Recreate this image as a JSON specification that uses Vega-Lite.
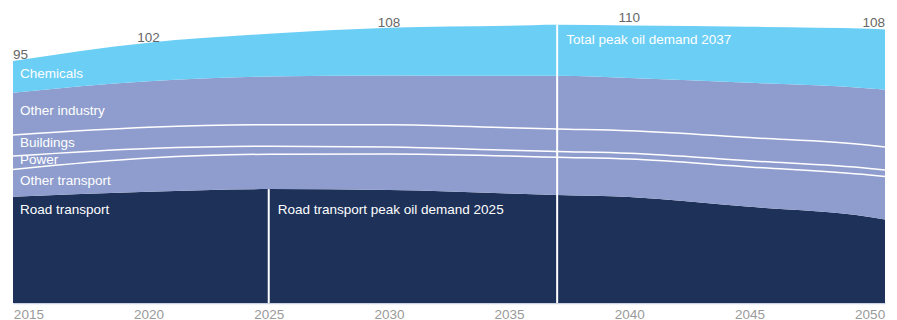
{
  "$schema": "https://vega.github.io/schema/vega-lite/v6.json",
  "width": 872,
  "height": 303,
  "autosize": {"type": "none"},
  "padding": {"left": 13, "right": 12, "top": 0, "bottom": 17},
  "background": "white",
  "config": {"view": {"stroke": null}, "font": "Liberation Sans"},
  "datasets": {
    "bands": [
      {"year": 2014.36, "sector": "Road transport", "value": 42.1},
      {"year": 2020, "sector": "Road transport", "value": 44.1},
      {"year": 2025, "sector": "Road transport", "value": 45.1},
      {"year": 2030, "sector": "Road transport", "value": 44.8},
      {"year": 2035, "sector": "Road transport", "value": 43.4},
      {"year": 2037, "sector": "Road transport", "value": 42.8},
      {"year": 2040, "sector": "Road transport", "value": 42.0},
      {"year": 2045, "sector": "Road transport", "value": 38.1},
      {"year": 2050, "sector": "Road transport", "value": 34.1},
      {"year": 2050.64, "sector": "Road transport", "value": 33.1},
      {"year": 2014.36, "sector": "Other transport", "value": 10.8},
      {"year": 2020, "sector": "Other transport", "value": 13.3},
      {"year": 2025, "sector": "Other transport", "value": 13.8},
      {"year": 2030, "sector": "Other transport", "value": 14.2},
      {"year": 2035, "sector": "Other transport", "value": 14.8},
      {"year": 2037, "sector": "Other transport", "value": 14.9},
      {"year": 2040, "sector": "Other transport", "value": 15.0},
      {"year": 2045, "sector": "Other transport", "value": 15.8},
      {"year": 2050, "sector": "Other transport", "value": 16.6},
      {"year": 2050.64, "sector": "Other transport", "value": 17.0},
      {"year": 2014.36, "sector": "Power", "value": 5.3},
      {"year": 2020, "sector": "Power", "value": 3.8},
      {"year": 2025, "sector": "Power", "value": 3.2},
      {"year": 2030, "sector": "Power", "value": 2.8},
      {"year": 2035, "sector": "Power", "value": 2.3},
      {"year": 2037, "sector": "Power", "value": 2.3},
      {"year": 2040, "sector": "Power", "value": 2.3},
      {"year": 2045, "sector": "Power", "value": 2.4},
      {"year": 2050, "sector": "Power", "value": 2.6},
      {"year": 2050.64, "sector": "Power", "value": 2.6},
      {"year": 2014.36, "sector": "Buildings", "value": 8.3},
      {"year": 2020, "sector": "Buildings", "value": 8.4},
      {"year": 2025, "sector": "Buildings", "value": 8.5},
      {"year": 2030, "sector": "Buildings", "value": 8.8},
      {"year": 2035, "sector": "Buildings", "value": 8.9},
      {"year": 2037, "sector": "Buildings", "value": 8.9},
      {"year": 2040, "sector": "Buildings", "value": 8.9},
      {"year": 2045, "sector": "Buildings", "value": 9.2},
      {"year": 2050, "sector": "Buildings", "value": 9.2},
      {"year": 2050.64, "sector": "Buildings", "value": 9.1},
      {"year": 2014.36, "sector": "Other industry", "value": 16.8},
      {"year": 2020, "sector": "Other industry", "value": 18.2},
      {"year": 2025, "sector": "Other industry", "value": 19.1},
      {"year": 2030, "sector": "Other industry", "value": 19.5},
      {"year": 2035, "sector": "Other industry", "value": 20.6},
      {"year": 2037, "sector": "Other industry", "value": 21.1},
      {"year": 2040, "sector": "Other industry", "value": 20.9},
      {"year": 2045, "sector": "Other industry", "value": 21.7},
      {"year": 2050, "sector": "Other industry", "value": 22.5},
      {"year": 2050.64, "sector": "Other industry", "value": 22.7},
      {"year": 2014.36, "sector": "Chemicals", "value": 12.5},
      {"year": 2020, "sector": "Chemicals", "value": 15.3},
      {"year": 2025, "sector": "Chemicals", "value": 16.9},
      {"year": 2030, "sector": "Chemicals", "value": 18.9},
      {"year": 2035, "sector": "Chemicals", "value": 19.8},
      {"year": 2037, "sector": "Chemicals", "value": 20.2},
      {"year": 2040, "sector": "Chemicals", "value": 20.8},
      {"year": 2045, "sector": "Chemicals", "value": 22.2},
      {"year": 2050, "sector": "Chemicals", "value": 23.6},
      {"year": 2050.64, "sector": "Chemicals", "value": 23.8}
    ],
    "markers": [
      {"year": 2025, "value": 45.1, "label": "Road transport peak oil demand 2025"},
      {"year": 2037, "value": 110.2, "label": "Total peak oil demand 2037"}
    ],
    "totals": [
      {"year": 2014.36, "total": 95},
      {"year": 2020, "total": 102},
      {"year": 2030, "total": 108},
      {"year": 2040, "total": 110},
      {"year": 2050.64, "total": 108}
    ]
  },
  "encoding": {
    "x": {
      "field": "year",
      "type": "quantitative",
      "scale": {"domain": [2014.36, 2050.64], "nice": false, "zero": false},
      "axis": {
        "values": [2015, 2020, 2025, 2030, 2035, 2040, 2045, 2050],
        "format": "d",
        "title": null,
        "grid": false,
        "ticks": false,
        "domainColor": "#c9d2e3",
        "domainWidth": 1.5,
        "labelColor": "#9a9a9a",
        "labelFontSize": 13.5,
        "labelPadding": 4,
        "labelFlush": false
      }
    }
  },
  "layer": [
    {
      "data": {"name": "bands"},
      "transform": [
        {"calculate": "indexof(['Road transport','Other transport','Power','Buildings','Other industry','Chemicals'], datum.sector)", "as": "rank"},
        {"window": [{"op": "sum", "field": "value", "as": "cum"}], "groupby": ["year"], "sort": [{"field": "rank"}], "frame": [null, 0]},
        {"calculate": "datum.cum - datum.value", "as": "lo"}
      ],
      "mark": {"type": "area", "interpolate": "monotone"},
      "encoding": {
        "y": {"field": "cum", "type": "quantitative", "scale": {"domain": [0, 120], "nice": false}, "axis": null},
        "y2": {"field": "lo"},
        "color": {
          "field": "sector",
          "type": "nominal",
          "scale": {
            "domain": ["Road transport", "Other transport", "Power", "Buildings", "Other industry", "Chemicals"],
            "range": ["#1d3159", "#8e9dcd", "#8e9dcd", "#8e9dcd", "#8e9dcd", "#6acef5"]
          },
          "legend": null
        }
      }
    },
    {
      "data": {"name": "bands"},
      "transform": [
        {"calculate": "indexof(['Road transport','Other transport','Power','Buildings','Other industry','Chemicals'], datum.sector)", "as": "rank"},
        {"window": [{"op": "sum", "field": "value", "as": "cum"}], "groupby": ["year"], "sort": [{"field": "rank"}], "frame": [null, 0]},
        {"filter": "datum.rank >= 1 && datum.rank <= 3"}
      ],
      "mark": {"type": "line", "interpolate": "monotone", "stroke": "white", "strokeWidth": 1.5},
      "encoding": {
        "y": {"field": "cum", "type": "quantitative", "scale": {"domain": [0, 120], "nice": false}, "axis": null},
        "detail": {"field": "sector"}
      }
    },
    {
      "data": {"name": "markers"},
      "mark": {"type": "rule", "stroke": "white", "strokeWidth": 2},
      "encoding": {
        "y": {"field": "value", "type": "quantitative", "scale": {"domain": [0, 120], "nice": false}, "axis": null},
        "y2": {"datum": 0}
      }
    },
    {
      "data": {"name": "markers"},
      "transform": [{"filter": "datum.year == 2025"}],
      "mark": {"type": "text", "align": "left", "baseline": "middle", "dx": 9, "dy": 21, "color": "white", "fontSize": 13.5},
      "encoding": {
        "y": {"field": "value", "type": "quantitative"},
        "text": {"field": "label"}
      }
    },
    {
      "data": {"name": "markers"},
      "transform": [{"filter": "datum.year == 2037"}],
      "mark": {"type": "text", "align": "left", "baseline": "middle", "dx": 9, "dy": 15, "color": "white", "fontSize": 13.5},
      "encoding": {
        "y": {"field": "value", "type": "quantitative"},
        "text": {"field": "label"}
      }
    },
    {
      "data": {"name": "bands"},
      "transform": [
        {"calculate": "indexof(['Road transport','Other transport','Power','Buildings','Other industry','Chemicals'], datum.sector)", "as": "rank"},
        {"window": [{"op": "sum", "field": "value", "as": "cum"}], "groupby": ["year"], "sort": [{"field": "rank"}], "frame": [null, 0]},
        {"calculate": "datum.cum - datum.value / 2", "as": "mid"},
        {"filter": "datum.year < 2015 && datum.rank >= 1"}
      ],
      "mark": {"type": "text", "align": "left", "baseline": "middle", "dx": 7, "dy": -2.5, "color": "white", "fontSize": 13.5},
      "encoding": {
        "y": {"field": "mid", "type": "quantitative"},
        "text": {"field": "sector"}
      }
    },
    {
      "data": {"name": "bands"},
      "transform": [
        {"filter": "datum.year < 2015 && datum.sector == 'Road transport'"}
      ],
      "mark": {"type": "text", "align": "left", "baseline": "middle", "dx": 7, "dy": 13, "color": "white", "fontSize": 13.5},
      "encoding": {
        "y": {"field": "value", "type": "quantitative"},
        "text": {"field": "sector"}
      }
    },
    {
      "data": {"name": "totals"},
      "transform": [{"filter": "datum.year < 2015"}],
      "mark": {"type": "text", "align": "left", "baseline": "alphabetic", "dy": -4, "color": "#666666", "fontSize": 13.5},
      "encoding": {
        "y": {"field": "total", "type": "quantitative"},
        "text": {"field": "total"}
      }
    },
    {
      "data": {"name": "totals"},
      "transform": [{"filter": "datum.year > 2015 && datum.year < 2050"}],
      "mark": {"type": "text", "align": "center", "baseline": "alphabetic", "dy": -3, "color": "#666666", "fontSize": 13.5},
      "encoding": {
        "y": {"field": "total", "type": "quantitative"},
        "text": {"field": "total"}
      }
    },
    {
      "data": {"name": "totals"},
      "transform": [{"filter": "datum.year > 2050"}],
      "mark": {"type": "text", "align": "right", "baseline": "alphabetic", "dy": -3, "color": "#666666", "fontSize": 13.5},
      "encoding": {
        "y": {"field": "total", "type": "quantitative"},
        "text": {"field": "total"}
      }
    }
  ]
}
